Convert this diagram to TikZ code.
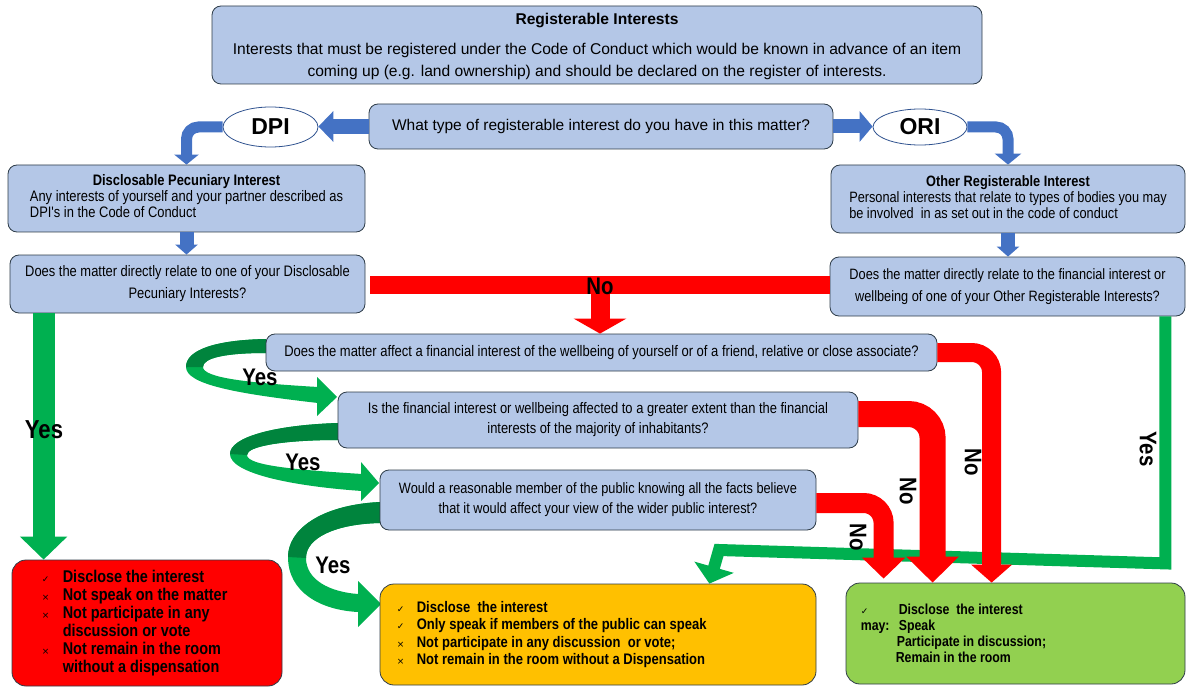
\documentclass[tikz,border=0pt]{standalone}
\usepackage{fontspec}
\setmainfont{Liberation Sans}
\newfontfamily\nar[FakeStretch=0.85]{Liberation Sans}
\newfontfamily\symf{DejaVu Sans}
\usetikzlibrary{arrows.meta,calc,shapes.geometric,backgrounds}
\definecolor{boxblue}{HTML}{B4C7E7}
\definecolor{boxline}{HTML}{2E3C48}
\definecolor{ellline}{HTML}{2F528F}
\definecolor{blueA}{HTML}{4472C4}
\definecolor{redA}{HTML}{FF0000}
\definecolor{greenA}{HTML}{00B050}
\definecolor{greenD}{HTML}{00843D}
\definecolor{orangeF}{HTML}{FFC000}
\definecolor{greenF}{HTML}{92D050}
\newcommand\fsz[2]{\fontsize{#1}{#2}\selectfont}
\newcommand\symb[2]{\makebox[#1][l]{{\symf\fsz{9}{9}\mdseries #2}}}
\begin{document}
\begin{tikzpicture}[x=1pt,y=-1pt,
  bbox/.style={draw=boxline, fill=boxblue, rounded corners=9pt, line width=0.8pt, inner sep=0pt, align=center},
  obox/.style={draw=boxline, rounded corners=14pt, line width=0.8pt, inner sep=0pt},
  ell/.style={ellipse, draw=ellline, fill=white, line width=0.8pt, inner sep=0pt, font=\bfseries\fsz{23}{23}},
  bluearr/.style={draw=blueA},
  redarr/.style={draw=redA},
  greenarr/.style={draw=greenA},
  yesno/.style={font=\nar\bfseries\fsz{24}{24}, inner sep=0pt},
  txt/.style={inner sep=0pt}
]
\useasboundingbox (0,0) rectangle (1194,687);

% ---------- boxes ----------
\node[bbox, minimum width=770pt, minimum height=78pt] (reg) at (597,45) {};
\node[txt, font=\bfseries\fsz{15.6}{15.6}] (regt) at (597,21) {Registerable Interests};
\node[txt, align=center, font=\fsz{15.6}{22}] (regb) at (597,61) {Interests that must be registered under the Code of Conduct which would be known in advance of an item\\coming up (e.g. land ownership) and should be declared on the register of interests.};

\node[bbox, minimum width=464pt, minimum height=45pt, font=\fsz{15.5}{17}] (qtype) at (601,126.5) {What type of registerable interest do you have in this matter?};
\node[ell, minimum width=95pt, minimum height=40pt] (dpi) at (270.5,127) {DPI};
\node[ell, minimum width=94pt, minimum height=36pt] (ori) at (920,127) {ORI};

\node[bbox, minimum width=357pt, minimum height=67pt, font=\nar\fsz{15.2}{16}] (dpibox) at (186.5,198.5)
 {\begin{tabular}{@{}l@{}}\multicolumn{1}{@{}c@{}}{\bfseries Disclosable Pecuniary Interest}\\Any interests of yourself and your partner described as\\DPI's in the Code of Conduct\end{tabular}};
\node[bbox, minimum width=354pt, minimum height=68pt, font=\nar\fsz{15}{16}] (oribox) at (1008,199)
 {\begin{tabular}{@{}l@{}}\multicolumn{1}{@{}c@{}}{\bfseries Other Registerable Interest}\\Personal interests that relate to types of bodies you may\\be involved\ \ in as set out in the code of conduct\end{tabular}};

\node[bbox, minimum width=355pt, minimum height=58pt, font=\nar\fsz{15.2}{22}] (dpiq) at (187.5,284)
 {Does the matter directly relate to one of your Disclosable\\Pecuniary Interests?};
\node[bbox, minimum width=355pt, minimum height=59pt, font=\nar\fsz{15}{22}] (oriq) at (1007.5,286.5)
 {Does the matter directly relate to the financial interest or\\wellbeing of one of your Other Registerable Interests?};

\node[bbox, minimum width=671pt, minimum height=37pt, font=\nar\fsz{15.3}{16}] (q1) at (601.5,352.5)
 {Does the matter affect a financial interest of the wellbeing of yourself or of a friend, relative or close associate?};
\node[bbox, minimum width=520pt, minimum height=56pt, font=\nar\fsz{15.2}{20}] (q2) at (598,420)
 {Is the financial interest or wellbeing affected to a greater extent than the financial\\interests of the majority of inhabitants?};
\node[bbox, minimum width=436pt, minimum height=60pt, font=\nar\fsz{15}{20}] (q3) at (598,500)
 {Would a reasonable member of the public knowing all the facts believe\\that it would affect your view of the wider public interest?};

\node[obox, fill=redA, minimum width=270pt, minimum height=126pt] (redbox) at (147,623) {};
\node[obox, fill=orangeF, minimum width=436pt, minimum height=101pt] (orangebox) at (598,634.5) {};
\node[obox, fill=greenF, minimum width=339pt, minimum height=101pt] (greenbox) at (1015.5,633.5) {};

\node[txt, anchor=west, align=left, font=\nar\bfseries\fsz{17}{18}] (redtxt) at ($(redbox.west)+(30,0)$)
 {\symb{21pt}{✓}Disclose the interest\\
  \symb{21pt}{×}Not speak on the matter\\
  \symb{21pt}{×}Not participate in any\\
  \hspace*{21pt}discussion or vote\\
  \symb{21pt}{×}Not remain in the room\\
  \hspace*{21pt}without a dispensation};
\node[txt, anchor=west, align=left, font=\nar\bfseries\fsz{15.3}{17.5}] (orangetxt) at ($(orangebox.west)+(17,0)$)
 {\symb{20pt}{✓}Disclose\ \ the interest\\
  \symb{20pt}{✓}Only speak if members of the public can speak\\
  \symb{20pt}{×}Not participate in any discussion\ \ or vote;\\
  \symb{20pt}{×}Not remain in the room without a Dispensation};
\node[txt, anchor=west, align=left, font=\nar\bfseries\fsz{14.5}{16}] (greentxt) at ($(greenbox.west)+(15,0)$)
 {\symb{38pt}{✓}Disclose\ \ the interest\\
  \makebox[38pt][l]{may:}Speak\\
  \hspace*{36pt}Participate in discussion;\\
  \hspace*{35pt}Remain in the room};

% ---------- blue arrows ----------
\draw[bluearr, line width=15pt, -{Triangle[width=30pt,length=15pt]}] (qtype.west) -- (qtype.west -| dpi.east);
\draw[bluearr, line width=14pt, -{Triangle[width=30pt,length=13pt]}] (qtype.east) -- (qtype.east -| ori.west);
\draw[bluearr, line width=11pt, rounded corners=12pt, -{Triangle[width=24pt,length=10pt]}] (dpi.west) -| (dpibox.north);
\draw[bluearr, line width=11pt, rounded corners=12pt, -{Triangle[width=26pt,length=11pt]}] (ori.east) -| (oribox.north);
\draw[bluearr, line width=14pt, -{Triangle[width=22pt,length=10pt]}] (dpibox.south) -- (dpibox.south |- dpiq.north);
\draw[bluearr, line width=14pt, -{Triangle[width=22pt,length=10pt]}] (oribox.south) -- (oribox.south |- oriq.north);

% ---------- curved green Yes ribbons ----------
\begin{scope}[on background layer]
\fill[greenA] (266,339) .. controls (215,340) and (186,350) .. (186,367) .. controls (186,385) and (240,394) .. (318,403)
  -- (318,387) .. controls (250,383) and (203,378) .. (203,367) .. controls (203,358) and (225,353) .. (266,353) -- cycle;
\fill[greenD] (266,339) .. controls (215,340) and (186,350) .. (186,367) -- (203,367) .. controls (203,358) and (225,353) .. (266,353) -- cycle;
\fill[greenA] (317,377) -- (337,397) -- (317,416) -- cycle;

\fill[greenA] (338,423) .. controls (275,425) and (230,437) .. (230,454) .. controls (230,473) and (290,486) .. (362,491)
  -- (362,474) .. controls (300,470) and (247,466) .. (247,455) .. controls (247,446) and (285,440) .. (338,440) -- cycle;
\fill[greenD] (338,423) .. controls (275,425) and (230,437) .. (230,454) -- (247,455) .. controls (247,446) and (285,440) .. (338,440) -- cycle;
\fill[greenA] (361,462) -- (379,483) -- (361,501) -- cycle;

\fill[greenA] (380,502) .. controls (320,505) and (288,530) .. (288,557) .. controls (288,592) and (320,610) .. (358,612)
  -- (358,594) .. controls (330,592) and (306,580) .. (306,558) .. controls (306,538) and (335,524) .. (380,523) -- cycle;
\fill[greenD] (380,502) .. controls (320,505) and (288,530) .. (288,557) -- (306,558) .. controls (306,538) and (335,524) .. (380,523) -- cycle;
\fill[greenA] (358,581) -- (381,604) -- (358,627) -- cycle;
\end{scope}

% ---------- green straight Yes arrows ----------
\coordinate (lyes) at ($(dpiq.south west)+(34,0)$);
\draw[greenarr, line width=22pt, -{Triangle[width=46pt,length=23pt]}] (lyes) -- (lyes |- redbox.north);
\coordinate (ryes) at ($(oriq.south east)+(-20,0)$);
\coordinate (ryes1) at ($(oriq.south east)+(-20,247)$);
\coordinate (ryes2) at (719,550);
\draw[greenarr, line width=12pt, -{Triangle[width=40pt,length=17pt]}] (ryes) -- (ryes1) -- (ryes2) -- ($(orangebox.north east)+(-107,0)$);

% ---------- red No arrows ----------
\draw[redarr, line width=18pt] ($(dpiq.east)+(5,1)$) -- ($(dpiq.east -| oriq.west)+(0,1)$);
\coordinate (nofork) at (600,276);
\draw[redarr, line width=19pt, -{Triangle[width=52pt,length=15pt]}] (nofork) -- (nofork |- q1.north);
\draw[redarr, line width=19pt, rounded corners=20pt, -{Triangle[width=40pt,length=18pt]}] (q1.east) -| ($(greenbox.north west)+(146,0)$);
\draw[redarr, line width=26pt, rounded corners=24pt, -{Triangle[width=51pt,length=26pt]}] ($(q2.east)+(0,-6)$) -| ($(greenbox.north west)+(87,0)$);
\draw[redarr, line width=20pt, rounded corners=20pt, -{Triangle[width=42pt,length=21pt]}] ($(q3.east)+(0,3)$) -| ($(greenbox.north west)+(38,-4)$);

% ---------- labels ----------
\node[yesno] (no0) at (600,286) {No};
\node[yesno, rotate=-90] (no1) at (973,462) {No};
\node[yesno, rotate=-90] (no2) at (908,491) {No};
\node[yesno, rotate=-90] (no3) at (858,537) {No};
\node[yesno, font=\nar\bfseries\fsz{26}{26}] (yes0) at (44,430) {Yes};
\node[yesno] (yes1) at (260,377) {Yes};
\node[yesno] (yes2) at (303,462) {Yes};
\node[yesno] (yes3) at (333,565) {Yes};
\node[yesno, rotate=-90] (yes4) at (1148,449) {Yes};
\end{tikzpicture}
\end{document}
